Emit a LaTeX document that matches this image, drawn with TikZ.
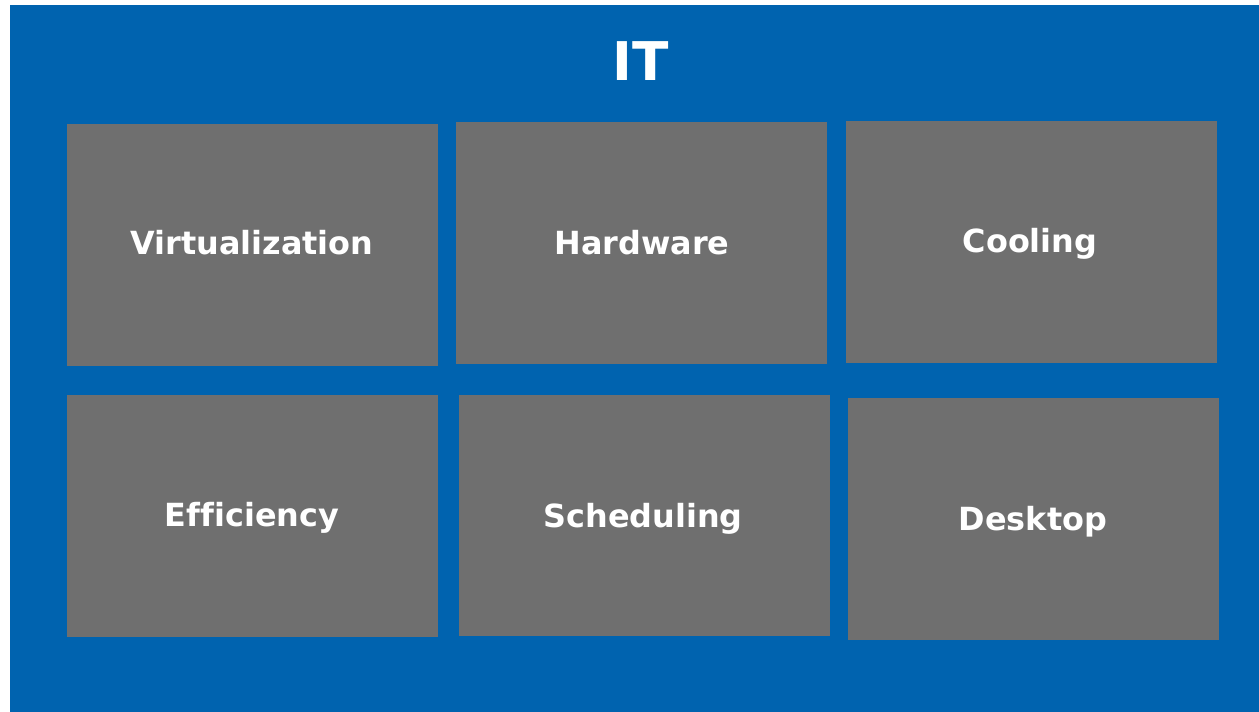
\documentclass[tikz,border=0pt]{standalone}
\usepackage{fontspec}
\setmainfont{DejaVu Sans}[Ligatures=NoCommon]
\usepackage{tikz}

\definecolor{itblue}{RGB}{0,99,175}
\definecolor{tilegray}{RGB}{111,111,111}

\begin{document}
\begin{tikzpicture}[x=0.75pt,y=0.75pt,yscale=-1,xscale=1,
  tile/.style={fill=tilegray,draw=none},
  lbl/.style={anchor=base,inner sep=0.75pt,text=white,font=\fontsize{23.9}{28}\selectfont\bfseries},
  ttl/.style={anchor=base,inner sep=0.75pt,text=white,font=\fontsize{40}{46}\selectfont\bfseries}]
\useasboundingbox (0,0) rectangle (1259,712);

%Shape: Rectangle [background]
\fill [itblue] (10,5) rectangle (1259,712);

%Shape: Rectangle [top row]
\draw [tile] (67,124) rectangle (438,366);
\draw [tile] (456,122) rectangle (827,364);
\draw [tile] (846,121) rectangle (1217,363);
%Shape: Rectangle [bottom row]
\draw [tile] (67,395) rectangle (438,637);
\draw [tile] (459,395) rectangle (830,636);
\draw [tile] (848,398) rectangle (1219,640);

% Text Node
\draw (641,81) node [ttl] (title) {IT};
% Text Node
\draw (252,255) node [lbl] (virt) {Virtualization};
% Text Node
\draw (642,255) node [lbl] (hw) {Hardware};
% Text Node
\draw (1030,253) node [lbl] (cool) {Cooling};
% Text Node
\draw (252,526) node [lbl] (eff) {Efficiency};
% Text Node
\draw (643,527) node [lbl] (sched) {Scheduling};
% Text Node
\draw (1033,530) node [lbl] (desk) {Desktop};

\end{tikzpicture}
\end{document}
